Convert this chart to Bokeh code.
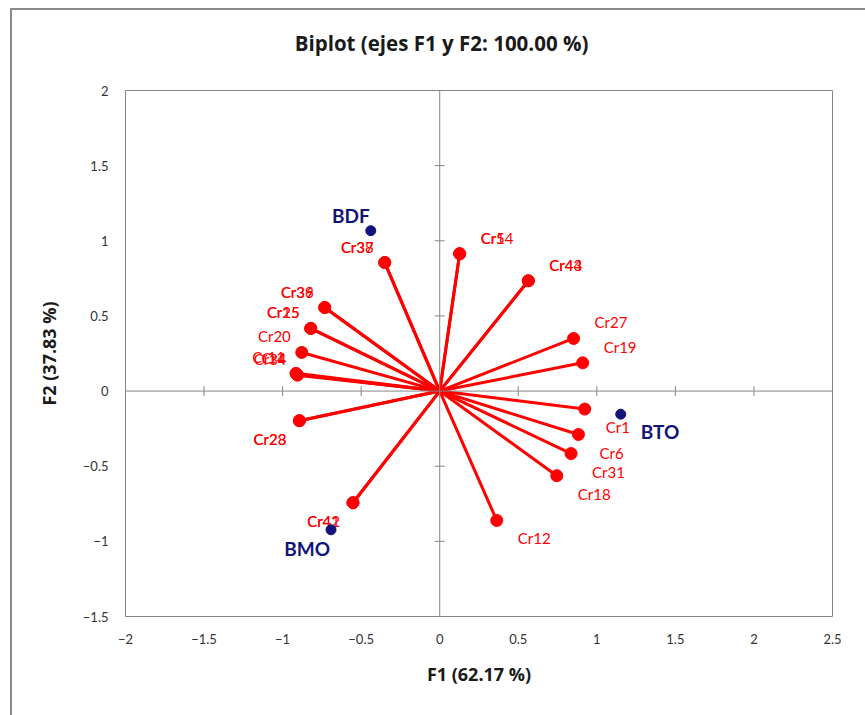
import math

from bokeh.plotting import figure
from bokeh.layouts import column
from bokeh.models import LinearAxis, Range1d, FixedTicker, ColumnDataSource, Span, Div
from bokeh.core.properties import value
from bokeh.embed import file_html
from bokeh.resources import INLINE

# Variable loadings on the first two factors (F1, F2)
var_names = ["Cr37", "Cr38", "Cr36", "Cr39", "Cr15", "Cr25", "Cr20",
             "Cr4", "Cr11", "Cr34", "Cr5", "Cr14", "Cr43", "Cr44",
             "Cr27", "Cr19", "Cr1", "Cr6", "Cr31", "Cr18", "Cr12",
             "Cr23", "Cr28", "Cr41", "Cr42"]
var_f1 = [-0.350, -0.350, -0.732, -0.732, -0.821, -0.821, -0.878,
          -0.910, -0.915, -0.905, 0.127, 0.127, 0.564, 0.564,
          0.852, 0.910, 0.923, 0.883, 0.836, 0.745, 0.363,
          -0.893, -0.893, -0.552, -0.552]
var_f2 = [0.855, 0.855, 0.556, 0.556, 0.417, 0.417, 0.257,
          0.111, 0.118, 0.106, 0.914, 0.914, 0.734, 0.734,
          0.350, 0.188, -0.120, -0.289, -0.416, -0.563, -0.861,
          -0.197, -0.197, -0.743, -0.743]

# Observations
obs_names = ["BDF", "BTO", "BMO"]
obs_f1 = [-0.439, 1.152, -0.692]
obs_f2 = [1.067, -0.154, -0.923]

x_ticks = [-2, -1.5, -1, -0.5, 0, 0.5, 1, 1.5, 2, 2.5]
y_ticks = [-1.5, -1, -0.5, 0, 0.5, 1, 1.5, 2]

TITLE = "Biplot (ejes F1 y F2: 100.00 %)"
X_TITLE = "F1 (62.17 %)"
Y_TITLE = "F2 (37.83 %)"

FONT = "Lato"
TITLE_FONT = "Open Sans"
RED = "#ff0000"
NAVY = "#12127a"
GREY = "#868686"
INK = "#1a1a1a"
WIDTH = 853


def label_layout(xs, ys, left_up, left_down, right_up, right_down):
    """Place each label outward from its point, depending on the quadrant."""
    aligns, dxs, dys = [], [], []
    for x, y in zip(xs, ys):
        if x < 0:
            dx, dy = left_up if y >= 0 else left_down
            aligns.append("right")
        else:
            dx, dy = right_up if y >= 0 else right_down
            aligns.append("left")
        dxs.append(dx)
        dys.append(dy)
    return aligns, dxs, dys


va, vdx, vdy = label_layout(var_f1, var_f2, (-11, -16), (-13, 18), (21, -16), (21, 18))
oa, odx, ody = label_layout(obs_f1, obs_f2, (-1, -15), (-1, 19), (20, -16), (20, 17))

var_src = ColumnDataSource(dict(name=var_names, x=var_f1, y=var_f2,
                                x0=[0] * len(var_f1), y0=[0] * len(var_f2),
                                align=va, dx=vdx, dy=vdy))
obs_src = ColumnDataSource(dict(name=obs_names, x=obs_f1, y=obs_f2,
                                align=oa, dx=odx, dy=ody))

# Chart title above the plot
title_div = Div(
    text=(f'<div style="box-sizing:border-box;width:{WIDTH}px;height:70px;'
          f'padding:19px 0 0 6px;text-align:center;font-family:\'{TITLE_FONT}\';'
          f'font-weight:bold;font-size:20.5px;line-height:28px;color:{INK};">'
          f'{TITLE}</div>'),
    width=WIDTH, height=70, margin=(0, 0, 0, 0))

p = figure(width=WIDTH, height=635, output_backend="svg", toolbar_location=None,
           x_range=Range1d(-2, 2.5), y_range=Range1d(-1.5, 2),
           x_axis_type=None, y_axis_type=None,
           min_border_left=113, min_border_right=33,
           min_border_top=10, min_border_bottom=99,
           margin=(0, 0, 0, 0))

p.background_fill_color = "white"
p.border_fill_color = "white"
p.outline_line_color = GREY
p.outline_line_width = 1
p.grid.visible = False

# Tick labels and axis titles sit on the frame edges
xa = LinearAxis(ticker=FixedTicker(ticks=x_ticks), axis_label=X_TITLE)
ya = LinearAxis(ticker=FixedTicker(ticks=y_ticks), axis_label=Y_TITLE)
for ax in (xa, ya):
    ax.axis_line_color = None
    ax.major_tick_line_color = None
    ax.minor_tick_line_color = None
    ax.major_tick_out = 0
    ax.major_tick_in = 0
    ax.major_label_standoff = 17
    ax.major_label_text_font = FONT
    ax.major_label_text_font_size = "13px"
    ax.major_label_text_color = "#333333"
    ax.axis_label_text_font = TITLE_FONT
    ax.axis_label_text_font_size = "18px"
    ax.axis_label_text_font_style = "bold"
    ax.axis_label_text_color = INK
xa.axis_label_standoff = 15
ya.axis_label_standoff = 19
p.add_layout(xa, "below")
p.add_layout(ya, "left")

# Axes crossing at the origin, with their tick marks
p.add_layout(Span(location=0, dimension="width", line_color=GREY, line_width=1))
p.add_layout(Span(location=0, dimension="height", line_color=GREY, line_width=1))
p.scatter(x=x_ticks, y=[0] * len(x_ticks), marker="dash", size=10,
          angle=math.pi / 2, line_color=GREY, line_width=1)
p.scatter(x=[0] * len(y_ticks), y=y_ticks, marker="dash", size=10,
          line_color=GREY, line_width=1)

# Variable vectors
p.segment(x0="x0", y0="y0", x1="x", y1="y", source=var_src,
          line_color=RED, line_width=3)
p.scatter(x="x", y="y", source=var_src, size=12, fill_color=RED,
          line_color=RED)
p.text(x="x", y="y", text="name", source=var_src,
       text_align="align", text_baseline="middle",
       x_offset="dx", y_offset="dy",
       text_font=value(FONT), text_font_size="15px", text_color=RED)

# Observations
p.scatter(x="x", y="y", source=obs_src, size=10, fill_color=NAVY,
          line_color=NAVY)
p.text(x="x", y="y", text="name", source=obs_src,
       text_align="align", text_baseline="middle",
       x_offset="dx", y_offset="dy",
       text_font=value(FONT), text_font_size="19px", text_font_style="bold",
       text_color=NAVY)

layout = column(title_div, p, spacing=0, margin=(8, 0, 0, 10),
                styles={"border-left": "2px solid #8a8a8a",
                        "border-top": "2px solid #8a8a8a",
                        "background-color": "white"})

open("out.html", "w").write(file_html(layout, INLINE))
